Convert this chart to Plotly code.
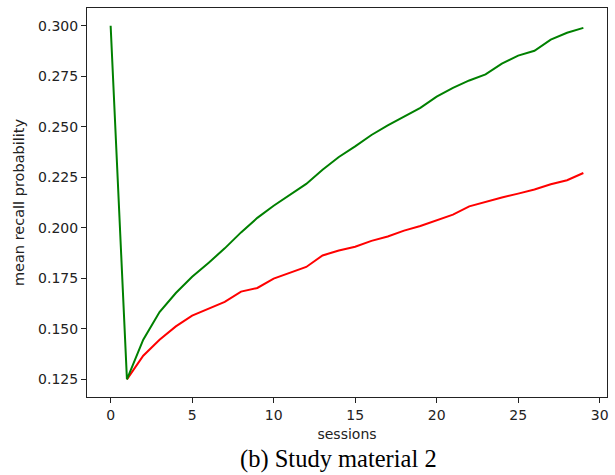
import plotly.graph_objects as go

sessions = list(range(30))
green_vals = [0.3000, 0.1250, 0.1446, 0.1583, 0.1677, 0.1757, 0.1826, 0.1898, 0.1977, 0.2049,
              0.2109, 0.2164, 0.2217, 0.2287, 0.2350, 0.2403, 0.2459, 0.2507, 0.2551, 0.2593,
              0.2649, 0.2692, 0.2729, 0.2759, 0.2812, 0.2852, 0.2876, 0.2931, 0.2965, 0.2989]
red_sessions = list(range(1, 30))
red_vals = [0.1250, 0.1367, 0.1446, 0.1512, 0.1565, 0.1600, 0.1633, 0.1684, 0.1702,
            0.1748, 0.1776, 0.1806, 0.1863, 0.1887, 0.1906, 0.1935, 0.1957, 0.1986, 0.2009,
            0.2039, 0.2065, 0.2106, 0.2129, 0.2150, 0.2169, 0.2189, 0.2215, 0.2235, 0.2271]
x_ticks = [0, 5, 10, 15, 20, 25, 30]
y_ticks = [0.125, 0.150, 0.175, 0.200, 0.225, 0.250, 0.275, 0.300]
caption = "(b) Study material 2"

fig = go.Figure()
fig.add_trace(go.Scatter(x=red_sessions, y=red_vals, mode="lines",
                         line=dict(color="#ff0000", width=2), showlegend=False))
fig.add_trace(go.Scatter(x=sessions, y=green_vals, mode="lines",
                         line=dict(color="#008000", width=2), showlegend=False))

axis_common = dict(showline=True, mirror=True, linecolor="#222", linewidth=1,
                   ticks="outside", ticklen=5, tickwidth=1, tickcolor="#222",
                   showgrid=False, zeroline=False, automargin=False,
                   tickfont=dict(family="DejaVu Sans", size=14, color="#222"))

fig.update_layout(
    width=615, height=475,
    margin=dict(l=87, r=8, t=8, b=78),
    paper_bgcolor="white", plot_bgcolor="white",
    xaxis=dict(range=[-1.45, 30.45], tickvals=x_ticks,
               title=dict(text="sessions", standoff=7,
                          font=dict(family="DejaVu Sans", size=14, color="#222")),
               **axis_common),
    yaxis=dict(range=[0.11625, 0.30875], tickvals=y_ticks, tickformat=".3f",
               title=dict(text="mean recall probability", standoff=10,
                          font=dict(family="DejaVu Sans", size=14.5, color="#222")),
               **axis_common),
    annotations=[dict(text=caption, xref="paper", yref="paper",
                      x=(338 - 87) / 520, y=-(459 - 397) / 389,
                      xanchor="center", yanchor="middle", showarrow=False,
                      font=dict(family="Liberation Serif", size=24.5, color="black"))],
)

fig.write_html("out.html", config={"displayModeBar": False},
               post_script="document.body.style.margin='0';")
